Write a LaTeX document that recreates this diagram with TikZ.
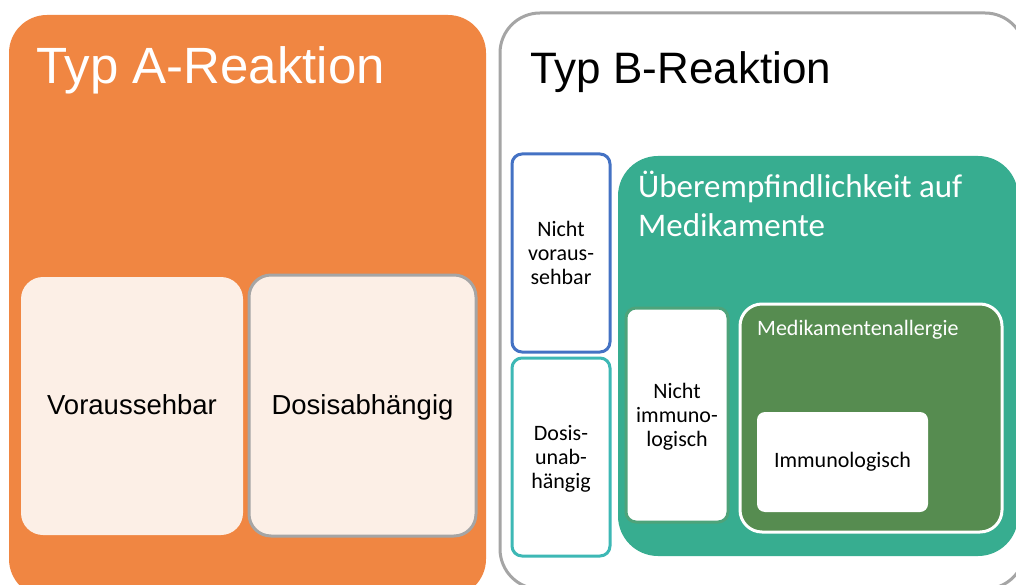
\documentclass[tikz,border=0pt]{standalone}
\usepackage{fontspec}
\setmainfont{Liberation Sans}
\newfontfamily\calibri{Carlito}
\definecolor{typA}{RGB}{240,134,66}
\definecolor{cream}{RGB}{252,239,230}
\definecolor{frame}{RGB}{165,165,165}
\definecolor{bluefr}{RGB}{68,114,196}
\definecolor{tealfr}{RGB}{61,184,181}
\definecolor{hyper}{RGB}{55,173,144}
\definecolor{allerg}{RGB}{86,140,80}
\definecolor{niframe}{RGB}{78,163,122}
\tikzset{
  box/.style={rectangle, inner sep=0pt, outer sep=0pt},
  bigtitle/.style={inner sep=0pt, anchor=base west, font=\fontsize{51}{61}\selectfont},
  ctext/.style={font=\fontsize{27.5}{33}\selectfont, text=black, text height=17pt, text depth=0pt},
  stext/.style={font=\calibri\fontsize{22}{24}\selectfont, align=center, text=black, text depth=0pt},
}
\begin{document}
\begin{tikzpicture}[x=1pt,y=-1pt]
\useasboundingbox (0,0) rectangle (1016,585);
\clip (0,0) rectangle (1016,585);
\fill[white] (0,0) rectangle (1016,585);

% Typ A
\node[box, fill=typA, rounded corners=38pt, minimum width=477pt, minimum height=582pt] (typa) at (247.5,306) {};
\node[bigtitle, text=white] (titlea) at (36,84) {Typ A-Reaktion};
\node[box, fill=cream, rounded corners=22pt, minimum width=222pt, minimum height=258pt, ctext] (vor) at (132,406) {Voraussehbar};
\node[box, fill=cream, draw=frame, line width=3pt, rounded corners=22pt, minimum width=227pt, minimum height=261pt, ctext] (dos) at (362.5,405.5) {Dosisabhängig};

% Typ B
\node[box, fill=white, draw=frame, line width=3pt, rounded corners=40pt, minimum width=525pt, minimum height=576pt] (typb) at (762.5,301) {};
\node[bigtitle, text=black, font=\fontsize{44}{53}\selectfont] (titleb) at (530,84) {Typ B-Reaktion};
\node[box, fill=white, draw=bluefr, line width=3pt, rounded corners=10pt, minimum width=98pt, minimum height=198pt, stext] (nv) at (561,253) {Nicht\\voraus-\\sehbar};
\node[box, fill=white, draw=tealfr, line width=3pt, rounded corners=10pt, minimum width=98pt, minimum height=198pt, stext] (du) at (561,457) {Dosis-\\unab-\\hängig};

% Hypersensitivity block
\node[box, fill=hyper, rounded corners=40pt, minimum width=400pt, minimum height=400pt] (hyp) at (818,356) {};
\node[inner sep=0pt, anchor=base west, text=white, font=\calibri\fontsize{33}{39}\selectfont] (hyptitle) at (638,198)
  {\vtop{\baselineskip=39pt\hbox{Überempfindlichkeit auf}\hbox{Medikamente}}};
\node[box, fill=white, draw=niframe, line width=3pt, rounded corners=10pt, minimum width=102pt, minimum height=214pt, stext] (ni) at (677,415) {Nicht\\immuno-\\logisch};
\node[box, fill=allerg, draw=white, line width=3pt, rounded corners=22pt, minimum width=262pt, minimum height=228pt] (ma) at (871,418) {};
\node[inner sep=0pt, anchor=base west, text=white, font=\calibri\fontsize{22}{26}\selectfont] (matitle) at (757,335) {Medikamentenallergie};
\node[box, fill=white, rounded corners=8pt, minimum width=171pt, minimum height=100pt, font=\calibri\fontsize{22}{26}\selectfont, text height=15pt, text depth=5pt] (im) at (842.5,462) {Immunologisch};
\end{tikzpicture}
\end{document}
